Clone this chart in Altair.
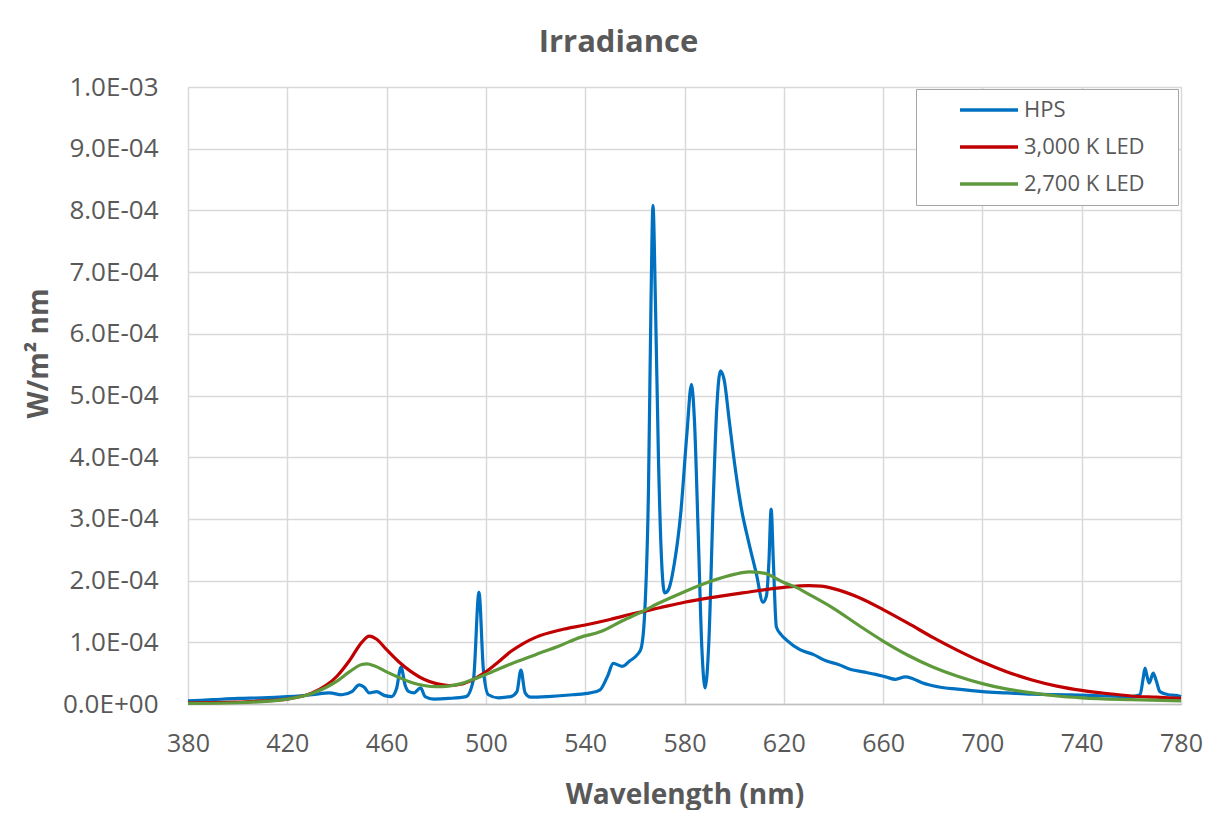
import altair as alt
import pandas as pd

# ---- data (values in units of 1e-4 W/m^2 nm) ----
hps_wl = [380, 390, 400, 410, 420, 430, 437, 442, 446, 449, 451, 453, 456, 459, 462, 464, 465.8, 467.5,
          469, 471, 473.7, 475.5, 479, 485, 492, 495, 497.2, 499, 501, 505, 510, 512.5, 514.1, 515.8,
          518, 525, 535, 542, 546, 549, 551.3, 555, 558, 561, 562.5, 564, 565.5, 566.5, 567.3, 568.3,
          569.5, 570.8, 572, 573.5, 576, 578.5, 581, 582.8, 584, 585.5, 587, 588.3, 589.8, 591.5, 593,
          594.5, 596, 598, 600.5, 603, 606, 609, 611.6, 613, 614, 614.9, 615.8, 617, 619, 621, 626.5,
          632, 637, 642, 647, 652, 657, 661, 665, 669, 672, 676, 682, 690, 700, 710, 720, 735, 750,
          760, 763.5, 764.7, 765.5, 766.5, 767.2, 768.8, 770, 771.5, 775, 778, 780]
hps_val = [0.05, 0.07, 0.09, 0.10, 0.12, 0.15, 0.18, 0.15, 0.20, 0.31, 0.27, 0.18, 0.20, 0.14, 0.12, 0.25, 0.60, 0.30,
           0.20, 0.18, 0.26, 0.12, 0.08, 0.09, 0.12, 0.40, 1.81, 0.55, 0.15, 0.10, 0.12, 0.20, 0.55, 0.18,
           0.11, 0.12, 0.15, 0.18, 0.23, 0.45, 0.66, 0.61, 0.70, 0.80, 0.90, 1.50, 3.50, 6.50, 8.08, 6.50,
           4.00, 2.30, 1.80, 1.85, 2.30, 3.10, 4.40, 5.18, 4.60, 2.80, 0.90, 0.26, 1.00, 3.20, 4.80,
           5.40, 5.25, 4.60, 3.80, 3.15, 2.60, 2.10, 1.65, 1.75, 2.30, 3.16, 2.30, 1.25, 1.12, 1.04, 0.88,
           0.80, 0.70, 0.64, 0.56, 0.52, 0.48, 0.44, 0.40, 0.44, 0.41, 0.34, 0.28, 0.24, 0.20, 0.18, 0.16, 0.15, 0.13,
           0.12, 0.15, 0.40, 0.58, 0.42, 0.34, 0.50, 0.38, 0.20, 0.15, 0.14, 0.12]

led3000_wl = [380, 400, 410, 420, 430, 440, 445, 450, 453, 456, 460, 465, 470, 475, 480, 485, 490, 495,
              500, 505, 510, 515, 520, 530, 540, 550, 560, 570, 580, 590, 600, 610, 620, 630, 635, 640,
              650, 660, 670, 680, 690, 700, 710, 720, 730, 740, 750, 760, 770, 780]
led3000_val = [0.02, 0.03, 0.05, 0.08, 0.18, 0.45, 0.70, 1.00, 1.10, 1.05, 0.88, 0.68, 0.52, 0.40, 0.33, 0.30, 0.32, 0.40,
               0.52, 0.68, 0.85, 0.98, 1.08, 1.20, 1.28, 1.37, 1.47, 1.56, 1.65, 1.72, 1.78, 1.84, 1.89, 1.92, 1.91, 1.87,
               1.73, 1.53, 1.31, 1.08, 0.87, 0.68, 0.52, 0.39, 0.29, 0.22, 0.17, 0.13, 0.11, 0.09]

led2700_wl = [380, 400, 410, 420, 430, 440, 445, 450, 452, 455, 460, 465, 470, 475, 480, 485, 490, 495,
              500, 510, 520, 530, 538, 546, 555, 563, 570, 580, 590, 600, 606, 612, 620, 625, 630, 640,
              650, 660, 670, 680, 690, 700, 710, 720, 730, 740, 760, 780]
led2700_val = [0.01, 0.02, 0.04, 0.08, 0.17, 0.37, 0.52, 0.64, 0.65, 0.62, 0.52, 0.43, 0.35, 0.30, 0.28, 0.29, 0.33, 0.40,
               0.48, 0.65, 0.80, 0.95, 1.08, 1.17, 1.35, 1.50, 1.64, 1.82, 1.98, 2.10, 2.14, 2.12, 1.97, 1.89, 1.78, 1.55,
               1.28, 1.02, 0.79, 0.60, 0.45, 0.33, 0.24, 0.18, 0.13, 0.10, 0.07, 0.05]

series_names = ["HPS", "3,000 K LED", "2,700 K LED"]
series_colors = ["#0070C0", "#C00000", "#5E9A3C"]
x_ticks = [380, 420, 460, 500, 540, 580, 620, 660, 700, 740, 780]
y_ticks = [0, 1e-4, 2e-4, 3e-4, 4e-4, 5e-4, 6e-4, 7e-4, 8e-4, 9e-4, 1e-3]

rows = []
for name, wl, val in [(series_names[0], hps_wl, hps_val),
                      (series_names[1], led3000_wl, led3000_val),
                      (series_names[2], led2700_wl, led2700_val)]:
    for w, v in zip(wl, val):
        rows.append({"Series": name, "Wavelength": w, "Irradiance": v * 1e-4})
df = pd.DataFrame(rows)

FONT = "Open Sans"
GRAY = "#595959"

e_expr = "floor(log(datum.value) / LN10 + 1e-9)"
y_label_expr = (
    "datum.value == 0 ? '0.0E+00' : "
    f"format(datum.value / pow(10, {e_expr}), '.1f') + 'E' + "
    f"({e_expr} < 0 ? '-' : '+') + (abs({e_expr}) < 10 ? '0' : '') + abs({e_expr})"
)

chart = alt.Chart(df).mark_line(strokeWidth=3.2, interpolate="monotone").encode(
    x=alt.X("Wavelength:Q",
            scale=alt.Scale(domain=[380, 780], nice=False, zero=False),
            axis=alt.Axis(values=x_ticks, title="Wavelength (nm)", format="d",
                          grid=True, gridColor="#d9d9d9", gridWidth=1.5,
                          domain=True, domainColor="#bfbfbf", domainWidth=1.5,
                          ticks=False, labelPadding=27, labelFlush=False,
                          labelFont=FONT, labelFontSize=25, labelColor=GRAY,
                          titleFont=FONT, titleFontSize=28, titleFontWeight="bold", titleColor=GRAY,
                          titleY=99, titleBaseline="alphabetic")),
    y=alt.Y("Irradiance:Q",
            scale=alt.Scale(domain=[0, 0.001], nice=False),
            axis=alt.Axis(values=y_ticks, title="W/m² nm", labelExpr=y_label_expr,
                          grid=True, gridColor="#d9d9d9", gridWidth=1.5,
                          domain=False, ticks=False, labelPadding=30, labelFlush=False,
                          labelFont=FONT, labelFontSize=26, labelColor=GRAY,
                          titleFont=FONT, titleFontSize=28, titleFontWeight="bold", titleColor=GRAY,
                          titleX=-141, titleY=266, titleBaseline="alphabetic", titleAngle=270)),
    color=alt.Color("Series:N",
                    scale=alt.Scale(domain=series_names, range=series_colors),
                    sort=series_names,
                    legend=alt.Legend(orient="none", legendX=728, legendY=2, title=None,
                                      padding=10, symbolOffset=32, strokeColor="#a6a6a6",
                                      fillColor="white", symbolType="stroke", symbolSize=3364,
                                      symbolStrokeWidth=3.5, labelFont=FONT, labelFontSize=22,
                                      labelColor=GRAY, labelOffset=4, rowPadding=15, clipHeight=22,
                                      labelLimit=300,
                                      labelExpr="datum.label + '\u00a0\u00a0\u00a0\u00a0\u200b'")),
).properties(
    width=993,
    height=617,
    title=alt.TitleParams("Irradiance", font=FONT, fontSize=31, fontWeight="bold",
                          color=GRAY, anchor="middle", dx=-66, offset=15),
    autosize=alt.AutoSizeParams(type="none"),
    padding={"left": 180, "top": 79, "right": 41, "bottom": 106},
).configure_view(stroke=None).configure(background="white")

chart.save("out.html", embed_options={"renderer": "svg", "actions": False})
